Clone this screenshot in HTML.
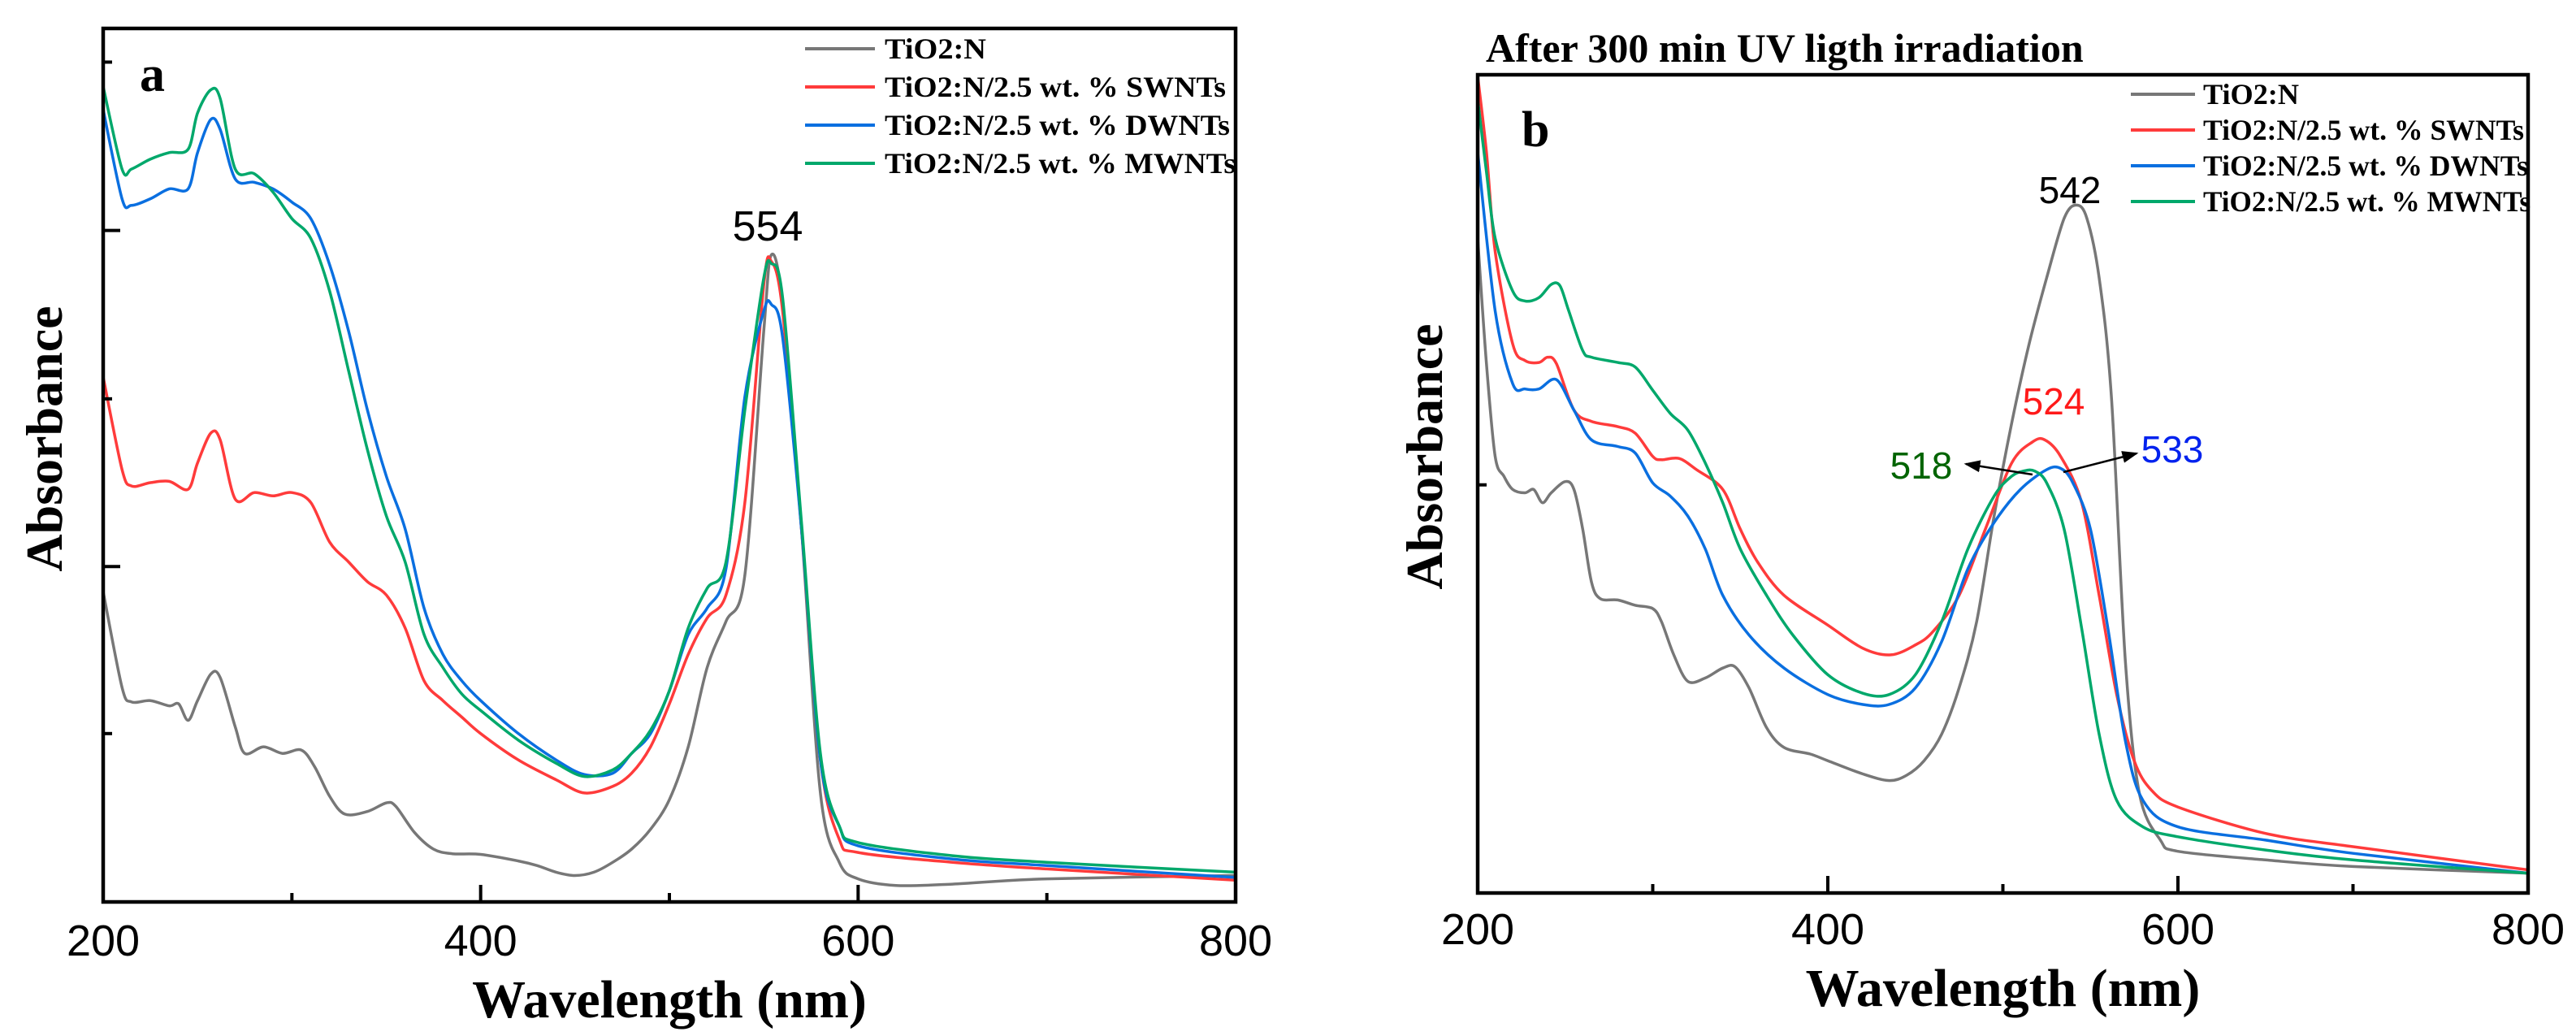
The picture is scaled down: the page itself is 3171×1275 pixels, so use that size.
<!DOCTYPE html>
<html><head><meta charset="utf-8"><style>
html,body{margin:0;padding:0;background:#fff}
svg{display:block}
</style></head><body>
<svg id="fig" width="3171" height="1275" viewBox="0 0 3171 1275" xmlns="http://www.w3.org/2000/svg"></svg>
<script>
// ---------- Panel a data (absorbance, arbitrary units) ----------
const aGrayWl = [200,210,215,225,235,240,245,250,257,262,270,275,285,295,305,312,320,328,340,350,355,365,375,385,400,420,430,440,450,460,470,480,490,500,510,520,530,540,550,554,560,570,580,590,600,620,650,700,800];
const aGrayVal = [505,360,338,340,332,335,310,340,380,375,300,260,270,260,265,240,195,168,172,185,180,140,115,108,107,97,90,80,75,80,95,115,145,190,270,390,460,530,900,1015,940,600,200,95,70,60,62,70,75];
const aWl = [200,210,215,225,235,245,250,257,262,270,280,290,300,310,320,330,340,350,360,370,380,390,400,420,440,455,470,480,490,500,510,520,530,540,550,554,560,570,580,590,600,650,700,800];
const aRedVal = [830,690,665,670,672,660,700,745,735,645,655,650,655,640,580,550,520,500,450,370,340,315,290,250,220,200,210,230,270,335,410,465,500,640,970,1005,930,600,250,130,110,95,85,68];
const aBlueVal = [1235,1100,1090,1100,1115,1115,1170,1220,1205,1130,1125,1115,1095,1070,1000,900,780,680,600,480,410,370,340,290,250,228,230,260,290,355,440,480,540,800,930,940,890,600,250,150,120,100,90,72];
const aGreenVal = [1270,1145,1145,1160,1170,1175,1230,1265,1252,1145,1138,1110,1070,1040,960,840,720,620,550,440,390,350,325,280,245,225,235,260,295,355,450,510,550,780,980,1002,950,610,260,150,125,105,95,80];
const aYTicks = [1307,1052,797,543,290];
const aYTickMajor = [false,true,false,true,false];

// ---------- Panel b data ----------
const bGrayWl = [200,205,210,215,220,227,232,237,242,250,255,260,265,270,280,290,300,305,312,320,330,340,347,355,365,375,390,400,420,435,445,455,465,475,485,495,505,515,525,535,542,548,555,562,570,578,590,600,650,700,800];
const bGrayVal = [1040,850,710,680,660,655,660,640,655,672,660,600,520,495,493,485,480,460,410,370,375,390,392,360,300,270,260,250,230,220,228,250,290,360,460,620,760,880,980,1070,1090,1070,980,800,400,200,130,113,100,90,80];
const bRedWl = [200,205,210,220,227,235,240,245,255,265,280,290,300,305,315,325,340,350,360,375,400,420,436,450,460,475,490,505,517,524,533,545,555,565,575,585,600,650,700,800];
const bRedVal = [1285,1170,1020,880,855,852,860,850,780,763,755,745,710,705,707,690,660,600,550,500,455,420,410,425,445,500,600,700,732,735,710,640,500,350,250,205,180,140,120,85];
const bBlueWl = [200,210,220,227,235,245,255,265,280,290,300,310,320,330,340,355,375,400,420,435,450,465,480,495,510,525,533,540,550,560,570,580,600,650,700,800];
const bBlueVal = [1170,930,820,812,812,826,780,735,725,715,670,650,620,570,500,440,390,350,335,335,360,430,540,610,660,690,692,670,600,450,280,190,150,130,110,80];
const bGreenWl = [200,205,210,220,227,235,242,247,252,260,265,280,290,300,310,320,330,340,350,365,380,400,420,435,450,465,480,495,505,512,518,525,535,545,555,565,580,600,650,700,800];
const bGreenVal = [1250,1140,1040,960,945,950,970,968,930,870,860,852,845,810,775,750,700,640,570,500,440,380,352,350,380,460,570,650,680,688,688,670,600,450,290,190,150,135,115,100,80];
const bYTicks = [667];

const xTicks = [200,300,400,500,600,700,800];
const xTickLabels = ['200','','400','','600','','800'];
const seriesNames = ['TiO2:N','TiO2:N/2.5 wt. % SWNTs','TiO2:N/2.5 wt. % DWNTs','TiO2:N/2.5 wt. % MWNTs'];
const seriesColors = ['#777777','#ff3b3b','#0a6fe0','#00a86b'];

const NS = 'http://www.w3.org/2000/svg';
const svg = document.getElementById('fig');
function mk(tag, attrs, parent, text){
  const e = document.createElementNS(NS, tag);
  for (const k in attrs) e.setAttribute(k, attrs[k]);
  if (text !== undefined) e.textContent = text;
  (parent||svg).appendChild(e);
  return e;
}
function smoothPath(pts){
  let d = 'M'+pts[0][0].toFixed(1)+','+pts[0][1].toFixed(1);
  for (let i=0;i<pts.length-1;i++){
    const p0=pts[Math.max(0,i-1)], p1=pts[i], p2=pts[i+1], p3=pts[Math.min(pts.length-1,i+2)];
    const t=0.16;
    const c1=[p1[0]+(p2[0]-p0[0])*t, p1[1]+(p2[1]-p0[1])*t];
    const c2=[p2[0]-(p3[0]-p1[0])*t, p2[1]-(p3[1]-p1[1])*t];
    d+=' C'+c1[0].toFixed(1)+','+c1[1].toFixed(1)+' '+c2[0].toFixed(1)+','+c2[1].toFixed(1)+' '+p2[0].toFixed(1)+','+p2[1].toFixed(1);
  }
  return d;
}

function panel(cfg){
  const g = mk('g', {});
  
  
  const X = wl => cfg.L + (wl-200)/600*(cfg.R-cfg.L);
  const Y = v => cfg.B - (v-cfg.ymin)/(cfg.ymax-cfg.ymin)*(cfg.B-cfg.T);
  const clip = mk('clipPath', {id:'clip-'+cfg.name}, g);
  mk('rect', {x:cfg.L, y:cfg.T, width:cfg.R-cfg.L, height:cfg.B-cfg.T}, clip);
  cfg.series.forEach((s,i)=>{
    const pts = s.wl.map((w,j)=>[X(w), Y(s.val[j])]);
    const p = mk('path', {d:smoothPath(pts), fill:'none', stroke:seriesColors[i], 'stroke-width':3.5, 'stroke-linejoin':'round', 'clip-path':'url(#clip-'+cfg.name+')'}, g);
    
    
  });
  const fr = mk('rect', {x:cfg.L, y:cfg.T, width:cfg.R-cfg.L, height:cfg.B-cfg.T, fill:'none', stroke:'#000', 'stroke-width':4.5}, g);
  
  
  xTicks.forEach((t,i)=>{
    const major = xTickLabels[i] !== '';
    const tk = mk('line', {x1:X(t), x2:X(t), y1:cfg.B, y2:cfg.B-(major?21:11), stroke:'#000', 'stroke-width':4}, g);
    
    
    if (major){
      const lb = mk('text', {x:X(t), y:cfg.labY, 'text-anchor':'middle', 'font-family':'"Liberation Sans", sans-serif', 'font-size':54}, g, xTickLabels[i]);
      
      
    }
  });
  cfg.yTicks.forEach((t,i)=>{
    const tk = mk('line', {x1:cfg.L, x2:cfg.L+(cfg.yMajor[i]?21:11), y1:Y(t), y2:Y(t), stroke:'#000', 'stroke-width':4}, g);
    
    
  });
  const xt = mk('text', {x:(cfg.L+cfg.R)/2, y:cfg.xTitleY, 'text-anchor':'middle', 'font-family':'"Liberation Serif", serif', 'font-weight':'bold', 'font-size':66}, g, 'Wavelength (nm)');
  
  
  const yt = mk('text', {x:0, y:0, 'text-anchor':'middle', 'font-family':'"Liberation Serif", serif', 'font-weight':'bold', 'font-size':64, transform:'translate('+(cfg.yTitleX)+','+cfg.yTitleY+') rotate(-90)'}, g, 'Absorbance');
  
  
  const pl = mk('text', {x:cfg.letterX, y:cfg.letterY, 'font-family':'"Liberation Serif", serif', 'font-weight':'bold', 'font-size':62}, g, cfg.letter);
  
  
  const lg = mk('g', {}, g);
  
  
  seriesNames.forEach((n,i)=>{
    const y = cfg.legY + i*cfg.legDy;
    const e = mk('g', {}, lg);
    
    
    mk('line', {x1:cfg.legX1, x2:cfg.legX2, y1:y, y2:y, stroke:seriesColors[i], 'stroke-width':4}, e);
    mk('text', {x:cfg.legTx, y:y+12, 'font-family':'"Liberation Serif", serif', 'font-weight':'bold', 'font-size':36, textLength:cfg.legLen[i], lengthAdjust:'spacingAndGlyphs'}, e, n);
  });
  return {g, X, Y};
}

const pa = panel({name:'panel-a', L:127, R:1521, T:35, B:1110, ymin:35, ymax:1358,
  series:[{wl:aGrayWl,val:aGrayVal},{wl:aWl,val:aRedVal},{wl:aWl,val:aBlueVal},{wl:aWl,val:aGreenVal}],
  yTicks:aYTicks, yMajor:aYTickMajor, labY:1176, xTitleY:1252, yTitleX:76, yTitleY:540,
  letter:'a', letterX:172, letterY:112,
  legX1:991, legX2:1077, legTx:1089, legY:60, legDy:47, legLen:[125,420,425,432]});

const pb = panel({name:'panel-b', L:1819, R:3112, T:92, B:1099, ymin:50, ymax:1287,
  series:[{wl:bGrayWl,val:bGrayVal},{wl:bRedWl,val:bRedVal},{wl:bBlueWl,val:bBlueVal},{wl:bGreenWl,val:bGreenVal}],
  yTicks:bYTicks, yMajor:[false], labY:1162, xTitleY:1238, yTitleX:1775, yTitleY:562,
  letter:'b', letterX:1873, letterY:180,
  legX1:2623, legX2:2702, legTx:2712, legY:116, legDy:44, legLen:[118,395,400,403]});

const ttl = mk('text', {x:1829, y:76, 'font-family':'"Liberation Serif", serif', 'font-weight':'bold', 'font-size':50}, svg, 'After 300 min UV ligth irradiation');



function ann(x,y,txt,col,name,size){
  const t = mk('text', {x:x, y:y, 'text-anchor':'middle', 'font-family':'"Liberation Sans", sans-serif', 'font-size':size, fill:col}, svg, txt);
  
  
}
ann(945, 296, '554', '#000', 'peak-label-554', 52);
ann(2548, 250, '542', '#000', 'peak-label-542', 46);
ann(2528, 510, '524', '#ff1a1a', 'peak-label-524', 46);
ann(2674, 569, '533', '#0022ee', 'peak-label-533', 46);
ann(2365, 589, '518', '#006400', 'peak-label-518', 46);

const defs = mk('defs', {});
const mkr = mk('marker', {id:'arrowhead', markerWidth:8, markerHeight:8, refX:7, refY:4, orient:'auto', markerUnits:'strokeWidth'}, defs);
mk('path', {d:'M0,1 L8,4 L0,7 Z', fill:'#000'}, mkr);
const ar1 = mk('line', {x1:2502, y1:584, x2:2420, y2:571, stroke:'#000', 'stroke-width':2.5, 'marker-end':'url(#arrowhead)'});


const ar2 = mk('line', {x1:2540, y1:581, x2:2630, y2:558, stroke:'#000', 'stroke-width':2.5, 'marker-end':'url(#arrowhead)'});


</script>
</body></html>
